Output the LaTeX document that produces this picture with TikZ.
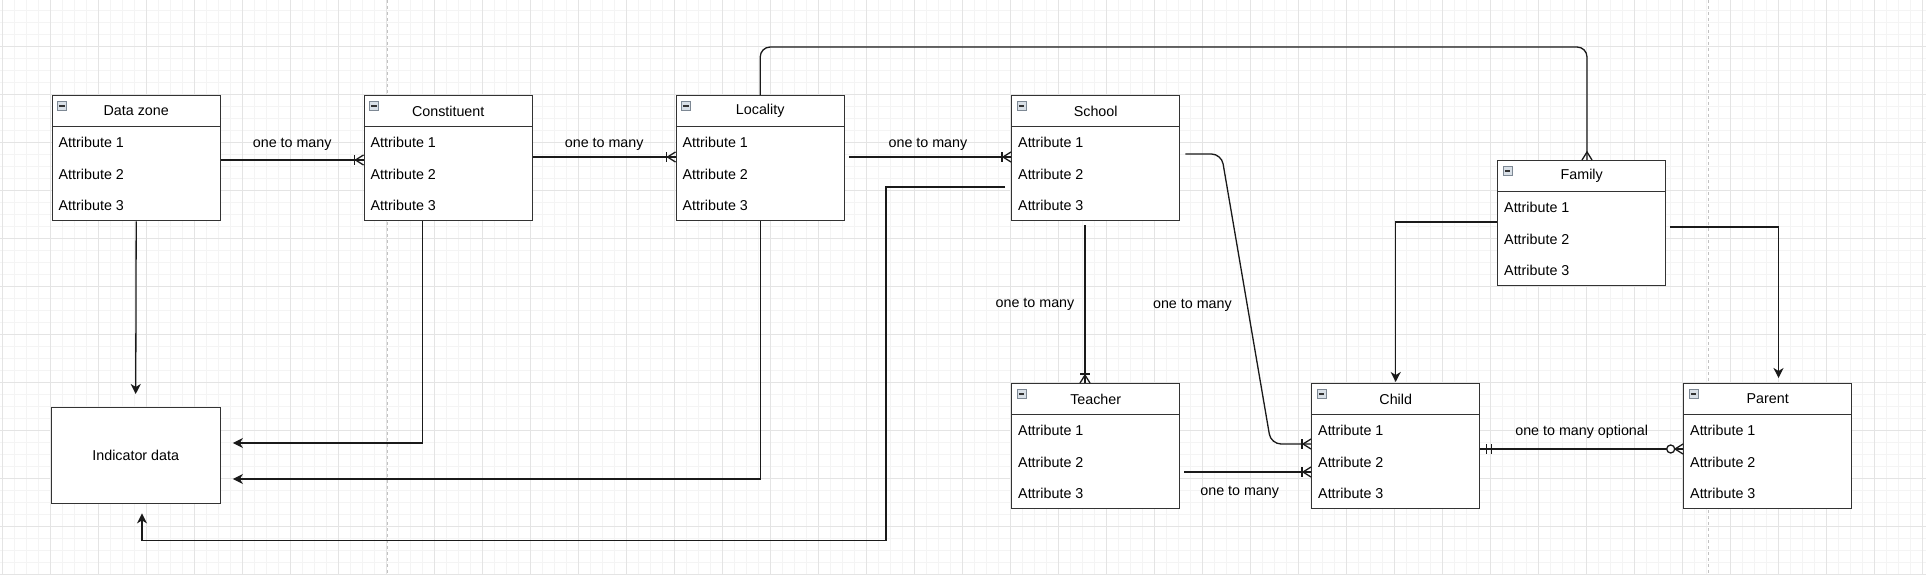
\documentclass[tikz,border=0pt]{standalone}
\usepackage{fontspec}
\setmainfont{Liberation Sans}
\usetikzlibrary{arrows.meta,calc}
\definecolor{gridminor}{HTML}{F4F4F4}
\definecolor{gridmajor}{HTML}{E4E4E4}
\definecolor{boxline}{HTML}{333333}
\definecolor{connline}{HTML}{1A1A1A}
\definecolor{pagebreak}{HTML}{C2C2C2}
\definecolor{iconfill}{HTML}{D9E0E7}
\definecolor{iconline}{HTML}{7D8894}
\tikzset{
 ebox/.style={draw=boxline, line width=1.4pt, fill=white, minimum width=168pt, minimum height=125pt, inner sep=0pt, anchor=north west},
 sepline/.style={draw=boxline, line width=1.4pt},
 txt/.style={font=\fontsize{14.3}{17}\selectfont, inner sep=0pt, text=black},
 attr/.style={txt, anchor=west},
 icon/.style={draw=iconline, fill=iconfill, line width=0.8pt, minimum width=9pt, minimum height=8.5pt, inner sep=0pt},
 iconminus/.style={draw=black!80, line width=1.1pt},
 conn/.style={draw=connline, line width=1.3pt},
 arr/.style={conn, -{Stealth[length=10pt,width=10pt,inset=3pt]}},
 mk/.style={draw=connline, line width=1.3pt},
 lbl/.style={txt},
 minorgrid/.style={draw=gridminor, line width=0.8pt},
 majorgrid/.style={draw=gridmajor, line width=0.9pt},
 pagebrk/.style={draw=pagebreak, line width=0.8pt, dash pattern=on 3pt off 3pt},
}
\newcommand\erentity[4]{%
 \node[ebox] (#1) at (#2,#3) {};
 \draw[sepline] ($(#1.north west)+(0,31.5)$) -- ($(#1.north east)+(0,31.5)$);
 \node[txt] (#1-t) at ($(#1.north)+(0,16)$) {#4};
 \node[attr] (#1-a1) at ($(#1.north west)+(7,47)$) {Attribute 1};
 \node[attr] (#1-a2) at ($(#1.north west)+(7,79)$) {Attribute 2};
 \node[attr] (#1-a3) at ($(#1.north west)+(7,110)$) {Attribute 3};
 \node[icon] (#1-i) at ($(#1.north west)+(10.5,11)$) {};
 \draw[iconminus] ($(#1-i.center)+(-2.6,0)$) -- ($(#1-i.center)+(2.6,0)$);
}
% crow's foot with bar, entering a box from the left at #1
\newcommand\cfoneleft[1]{%
 \draw[mk] ($(#1)+(0,-5)$) -- ($(#1)+(-8,0)$) -- ($(#1)+(0,5)$);
 \draw[mk] ($(#1)+(-9,-5)$) -- ($(#1)+(-9,5)$);
}
% crow's foot with bar, entering a box from above at #1
\newcommand\cfonetop[1]{%
 \draw[mk] ($(#1)+(-5,0)$) -- ($(#1)+(0,-8)$) -- ($(#1)+(5,0)$);
 \draw[mk] ($(#1)+(-5,-9)$) -- ($(#1)+(5,-9)$);
}
\begin{document}
\begin{tikzpicture}[x=1pt,y=-1pt]
\fill[white] (0,0) rectangle (1926,575);
\useasboundingbox (0,0) rectangle (1926,575);
% grid
\foreach \gx in {2.5,14.5,...,1926} {\draw[minorgrid] (\gx,0) -- (\gx,575);}
\foreach \gy in {10.5,22.5,...,575} {\draw[minorgrid] (0,\gy) -- (1926,\gy);}
\foreach \gx in {2.5,50.5,...,1926} {\draw[majorgrid] (\gx,0) -- (\gx,575);}
\foreach \gy in {46.5,94.5,...,575} {\draw[majorgrid] (0,\gy) -- (1926,\gy);}
\draw[pagebrk] (387.5,0) -- (387.5,575);
\draw[pagebrk] (1708.5,0) -- (1708.5,575);

% entities
\erentity{dz}{51.5}{95}{Data zone}
\erentity{co}{363.5}{95}{Constituent}
\erentity{lo}{675.5}{95}{Locality}
\erentity{sc}{1011}{95}{School}
\erentity{fa}{1497}{160}{Family}
\erentity{te}{1011}{383}{Teacher}
\erentity{ch}{1311}{383}{Child}
\erentity{pa}{1683}{383}{Parent}
\node[draw=boxline, line width=1.4pt, fill=white, minimum width=169pt, minimum height=96pt, anchor=north west, txt] (ind) at (50.5,407) {Indicator data};

% Data zone -> Constituent
\coordinate (e1) at ($(co.north west)+(0,65)$);
\draw[conn] ($(dz.north east)+(0,65)$) -- node[lbl, yshift=16pt] (l1) {one to many} (e1);
\cfoneleft{e1}
% Constituent -> Locality
\coordinate (e2) at ($(lo.north west)+(0,62)$);
\draw[conn] ($(co.north east)+(0,62)$) -- node[lbl, yshift=13pt] (l2) {one to many} (e2);
\cfoneleft{e2}
% Locality -> School
\coordinate (e3) at ($(sc.north west)+(0,62)$);
\draw[conn] ($(lo.north east)+(4,62)$) -- node[lbl, yshift=13pt, xshift=-2pt] (l3) {one to many} (e3);
\cfoneleft{e3}
% School -> Teacher
\coordinate (e4) at ($(te.north west)+(74,0)$);
\draw[conn] ($(sc.south west)+(74,4)$) -- node[lbl, xshift=-50pt] (l4) {one to many} (e4);
\cfonetop{e4}
% School -> Child
\coordinate (e5) at ($(ch.north west)+(0,61)$);
\draw[conn, rounded corners=10pt] ($(sc.north east)+(5,59)$) -- ($(sc.north east)+(41,59)$) -- ($(ch.north west)+(-40,61)$) -- (e5);
\cfoneleft{e5}
\node[lbl] (l5) at ($(sc.south east)+(12,84)$) {one to many};
% Teacher -> Child
\coordinate (e6) at ($(ch.north west)+(0,89)$);
\draw[conn] ($(te.north east)+(4,89)$) -- node[lbl, yshift=-20pt, xshift=-8pt] (l6) {one to many} (e6);
\cfoneleft{e6}
% Child -> Parent
\coordinate (s7) at ($(ch.north east)+(0,66)$);
\coordinate (e7) at ($(pa.north west)+(0,66)$);
\draw[conn] (s7) -- node[lbl, yshift=17pt] (l7) {one to many optional} (e7);
\draw[mk] ($(s7)+(6,-5)$) -- ($(s7)+(6,5)$);
\draw[mk] ($(s7)+(11,-5)$) -- ($(s7)+(11,5)$);
\draw[mk] ($(e7)+(0,-5)$) -- ($(e7)+(-8,0)$) -- ($(e7)+(0,5)$);
\draw[mk, fill=white] ($(e7)+(-12.3,0)$) circle[radius=4pt];
% Locality -> Family
\coordinate (e10) at ($(fa.north west)+(90,0)$);
\draw[conn, rounded corners=10pt] (lo.north) |- ($(e10)+(0,-113)$) -- (e10);
\draw[mk] ($(e10)+(-5,0)$) -- ($(e10)+(0,-8)$) -- ($(e10)+(5,0)$);
% Family -> Child / Parent
\draw[arr, shorten >=1pt] ($(fa.north west)+(0,62)$) -| (ch.north);
\draw[arr, shorten >=5pt] ($(fa.north east)+(4,67)$) -| ($(pa.north west)+(95.5,0)$);
% to Indicator data
\draw[arr, shorten >=13pt] (dz.south) -- (ind.north);
\draw[arr, shorten >=12pt] ($(co.south west)+(59,0)$) |- ($(ind.north east)+(0,36)$);
\draw[arr, shorten >=12pt] (lo.south) |- ($(ind.north east)+(0,72)$);
\coordinate (k1) at ($(ind.south west)+(91.5,36)$);
\draw[arr, shorten >=9pt] ($(sc.north west)+(-6,92)$) -- ($(sc.north west)+(-125,92)$) |- (k1) -- (k1 |- ind.south);
\end{tikzpicture}
\end{document}
